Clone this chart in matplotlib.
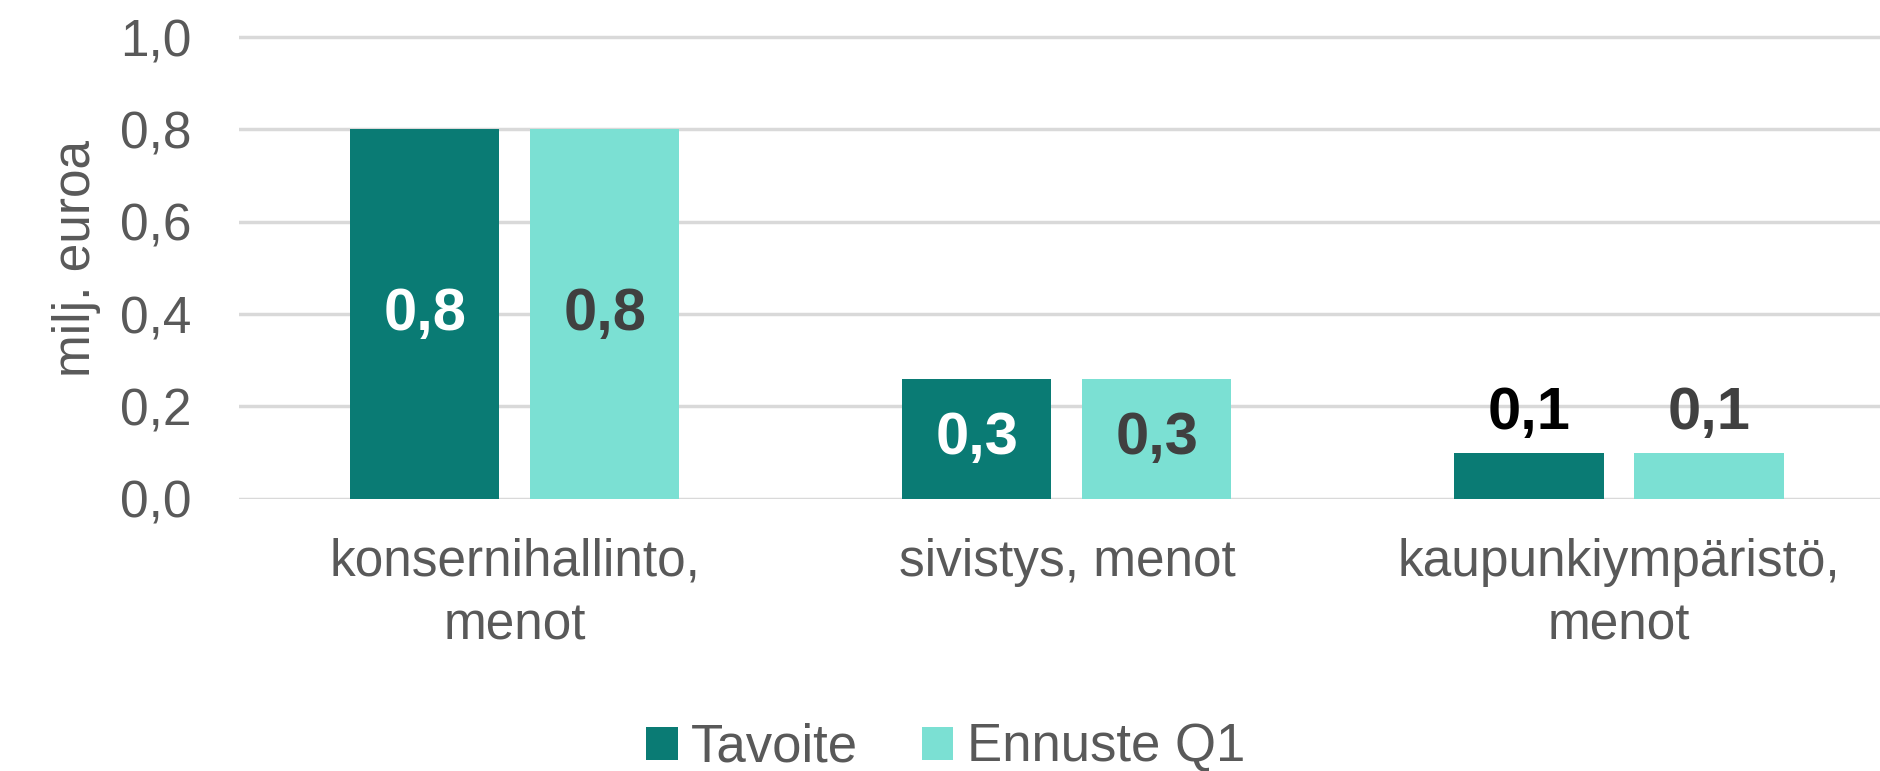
import matplotlib
matplotlib.use("Agg")
import matplotlib.pyplot as plt
import numpy as np

categories = ["konsernihallinto,\nmenot", "sivistys, menot", "kaupunkiympäristö,\nmenot"]
series_names = ["Tavoite", "Ennuste Q1"]
tavoite = [0.80, 0.26, 0.10]
ennuste = [0.80, 0.26, 0.10]
yticks = [0.0, 0.2, 0.4, 0.6, 0.8, 1.0]
ytick_labels = ["0,0", "0,2", "0,4", "0,6", "0,8", "1,0"]

c_dark = "#0A7B74"
c_light = "#7BE0D3"
gray = "#595959"

plt.rcParams['font.family'] = ['Liberation Sans', 'DejaVu Sans']

fig = plt.figure(figsize=(18.8, 7.71), dpi=100)
ymax = 1.04
ax = fig.add_axes([0.127, 0.353, 0.881, 0.599 * ymax])

x = np.arange(len(categories))
w = 0.27
off = 0.163
b1 = ax.bar(x - off, tavoite, w, color=c_dark, label=series_names[0], zorder=3)
b2 = ax.bar(x + off, ennuste, w, color=c_light, label=series_names[1], zorder=3)

ax.set_xlim(-0.5, len(categories) - 0.5)
ax.set_ylim(0, ymax)
ax.set_yticks(yticks)
ax.set_yticklabels(ytick_labels)
ax.yaxis.grid(True, color="#D9D9D9", linewidth=2.5, zorder=0)
ax.set_axisbelow(True)
for s in ax.spines.values():
    s.set_visible(False)
ax.tick_params(axis='y', length=0, pad=34, labelsize=37, labelcolor=gray)
ax.tick_params(axis='x', length=0, pad=28, labelsize=37, labelcolor=gray)
ax.set_xticks(x)
ax.set_xticklabels(categories, linespacing=1.4)
ax.set_ylabel("milj. euroa", fontsize=37, color=gray, labelpad=14)

def lab(v):
    return f"{v:.1f}".replace(".", ",")

for i in range(len(categories)):
    for bars, vals, inside_col, out_col, sgn in ((b1, tavoite, "white", "black", -1),
                                                  (b2, ennuste, "#404040", "#404040", 1)):
        v = vals[i]
        xc = x[i] + sgn * off
        if v >= 0.2:
            ax.text(xc, v / 2, lab(v), ha="center", va="center", fontsize=43,
                    fontweight="bold", color=inside_col, zorder=4)
        else:
            ax.text(xc, v + 0.025, lab(v), ha="center", va="bottom", fontsize=43,
                    fontweight="bold", color=out_col, zorder=4)

fig.legend(handles=[b1, b2], labels=series_names, loc="center", bbox_to_anchor=(0.503, 0.030),
           ncol=2, frameon=False, fontsize=38, handlelength=0.6, handleheight=0.6,
           handletextpad=0.25, columnspacing=1.2, labelcolor=gray)

fig.savefig("out.png", dpi=100)
